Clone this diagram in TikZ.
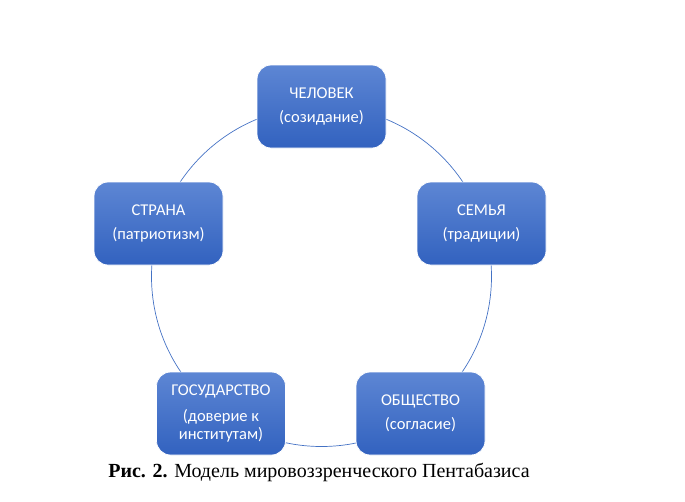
\documentclass[tikz,border=0pt]{standalone}
\usepackage{fontspec}
\setmainfont{Liberation Serif}
\newfontfamily\boxfont{Carlito}
\usetikzlibrary{calc}
\definecolor{boxtop}{HTML}{5D86D4}
\definecolor{boxbot}{HTML}{3262BF}
\definecolor{ringc}{HTML}{4472C4}
\tikzset{
  pbox/.style={rounded corners=14pt, minimum width=129pt, minimum height=83pt,
    top color=boxtop, bottom color=boxbot, draw=white, line width=0.8pt,
    text=white, align=center, font=\boxfont\fontsize{16.5}{24}\selectfont, inner sep=0pt},
  ring/.style={draw=ringc, line width=0.7pt}
}
\begin{document}
\begin{tikzpicture}[x=1pt,y=-1pt]
\useasboundingbox (0,0) rectangle (685,501);
\coordinate (c) at (321.5,276.5);
\draw[ring] (c) circle[radius=170];
\node[pbox] (chel) at (321.5,106.5) {ЧЕЛОВЕК\\(созидание)};
\node[pbox] (sem) at (481.5,223.5) {СЕМЬЯ\\(традиции)};
\node[pbox] (obsh) at (420.5,413.5) {ОБЩЕСТВО\\(согласие)};
\node[pbox] (gos) at (221,413.5) {ГОСУДАРСТВО\\[2pt](доверие к\\[-6pt]институтам)};
\node[pbox] (str) at (158.5,223.5) {СТРАНА\\(патриотизм)};
\node[font=\fontsize{20}{22}\selectfont, anchor=base] (cap) at (319,477) {\textbf{Рис. 2.} Модель мировоззренческого Пентабазиса};
\end{tikzpicture}
\end{document}
